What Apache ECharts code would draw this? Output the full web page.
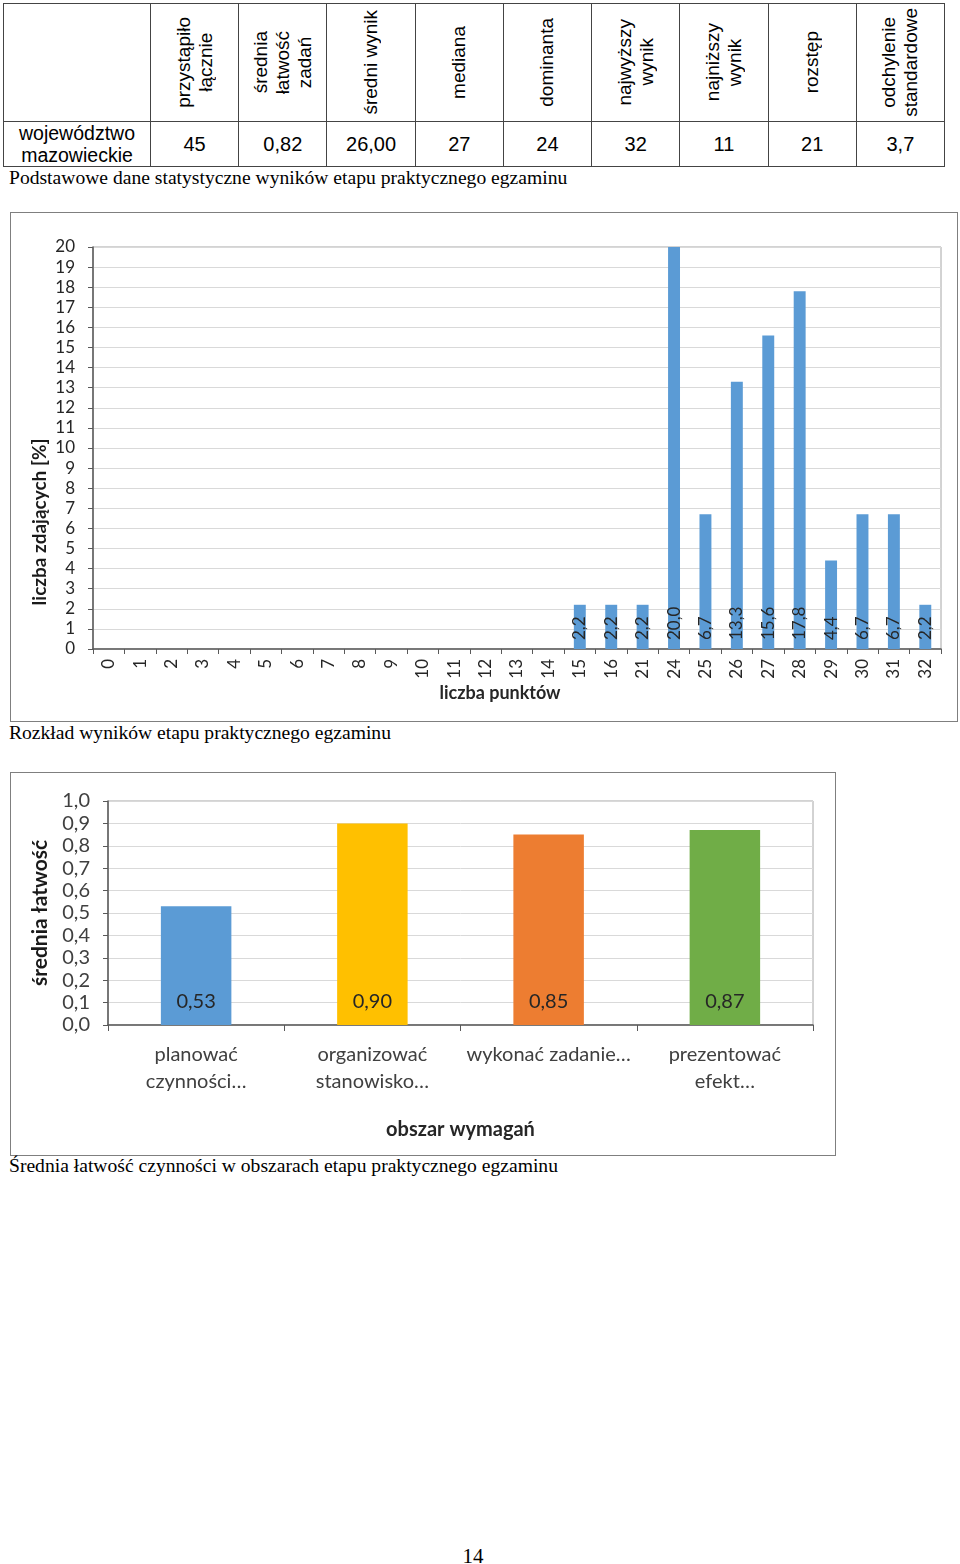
<!DOCTYPE html>
<html><head><meta charset="utf-8">
<script src="https://cdn.jsdelivr.net/npm/echarts@6/dist/echarts.min.js"></script>
<style>
html,body{margin:0;padding:0;background:#fff;}
body{width:960px;height:1564px;position:relative;overflow:hidden;}
.cap{position:absolute;left:9px;font-family:"Liberation Serif","Times New Roman",serif;font-size:19.6px;color:#000;white-space:nowrap;}
#tbl{position:absolute;left:3px;top:3px;border-collapse:collapse;table-layout:fixed;width:942px;font-family:"Liberation Sans",Arial,sans-serif;font-size:20px;color:#000;}
#tbl td{border:1.5px solid #444;padding:0;text-align:center;vertical-align:middle;overflow:hidden;}
.vt{writing-mode:vertical-rl;transform:rotate(180deg);display:inline-block;line-height:22px;white-space:nowrap;font-size:19px;vertical-align:middle;}
.box{position:absolute;border:1px solid #7f7f7f;box-sizing:border-box;}
.inner{position:absolute;left:0;top:0;}
#pg{position:absolute;left:0;width:946px;top:1544px;text-align:center;font-family:"Liberation Serif",serif;font-size:21px;}
</style></head>
<body>
<table id="tbl"><colgroup id="cg"></colgroup><tbody><tr id="hdr"></tr><tr id="row"></tr></tbody></table>
<div class="cap" style="top:167px">Podstawowe dane statystyczne wyników etapu praktycznego egzaminu</div>
<div class="box" style="left:10px;top:212px;width:948px;height:510px"><div id="c1" class="inner" style="width:946px;height:508px"></div></div>
<div class="cap" style="top:722px">Rozkład wyników etapu praktycznego egzaminu</div>
<div class="box" style="left:10px;top:772px;width:826px;height:384px"><div id="c2" class="inner" style="width:824px;height:382px"></div></div>
<div class="cap" style="top:1155px">Średnia łatwość czynności w obszarach etapu praktycznego egzaminu</div>
<div id="pg">14</div>
<script>
// ---- table data ----
const tableHeaders = ['przystąpiło<br>łącznie','średnia<br>łatwość<br>zadań','średni wynik','mediana','dominanta','najwyższy<br>wynik','najniższy<br>wynik','rozstęp','odchylenie<br>standardowe'];
const tableRowLabel = 'województwo<br>mazowieckie';
const tableValues = ['45','0,82','26,00','27','24','32','11','21','3,7'];

// ---- chart 1 data ----
const scoreCategories = ['0','1','2','3','4','5','6','7','8','9','10','11','12','13','14','15','16','21','24','25','26','27','28','29','30','31','32'];
const percentValues = [0,0,0,0,0,0,0,0,0,0,0,0,0,0,0,2.2,2.2,2.2,20.0,6.7,13.3,15.6,17.8,4.4,6.7,6.7,2.2];
const percentTicks = {min:0, max:20, interval:1};

// ---- chart 2 data ----
const areaLabels = ['planować\nczynności…','organizować\nstanowisko…','wykonać zadanie…','prezentować\nefekt…'];
const facilityValues = [0.53, 0.90, 0.85, 0.87];
const areaColors = ['#5B9BD5','#FFC000','#ED7D31','#70AD47'];
const facilityTicks = {min:0, max:1, interval:0.1};

// build table
let cg = '<col style="width:147px">';
tableHeaders.forEach(() => { cg += '<col>'; });
document.getElementById('cg').innerHTML = cg;
let h = '<td style="height:117px"></td>';
tableHeaders.forEach(t => { h += '<td><span class="vt">' + t + '</span></td>'; });
document.getElementById('hdr').innerHTML = h;
let r = '<td style="height:42px;line-height:22px;font-size:19.5px">' + tableRowLabel + '</td>';
tableValues.forEach(v => { r += '<td>' + v + '</td>'; });
document.getElementById('row').innerHTML = r;

const FONT = 'Lato, "Open Sans", sans-serif';
const axisCol = '#595959', gridCol = '#d9d9d9', txtCol = '#262626';

const c1 = echarts.init(document.getElementById('c1'), null, {renderer:'canvas'});
c1.setOption({
  animation:false,
  textStyle:{fontFamily:FONT},
  grid:{left:82, top:34, right:16, bottom:72, show:true, borderColor:'#a6a6a6', borderWidth:1},
  xAxis:{type:'category', data:scoreCategories,
    name:'liczba punktów', nameLocation:'middle', nameGap:35, nameMoveOverlap:false,
    nameTextStyle:{fontFamily:FONT, fontWeight:700, fontSize:18, color:txtCol, padding:[0,34,0,0]},
    axisLine:{lineStyle:{color:axisCol, width:1.5}},
    axisTick:{show:true, length:5, lineStyle:{color:axisCol}},
    axisLabel:{rotate:90, fontSize:17, color:txtCol, margin:10, fontFamily:FONT, interval:0}},
  yAxis:{type:'value', min:percentTicks.min, max:percentTicks.max, interval:percentTicks.interval,
    name:'liczba zdających [%]', nameLocation:'middle', nameGap:44, nameMoveOverlap:false,
    nameTextStyle:{fontFamily:FONT, fontWeight:700, fontSize:19, color:'#1a1a1a', padding:[0,148,0,0]},
    axisLine:{show:true, lineStyle:{color:axisCol, width:1.5}},
    axisTick:{show:true, length:5, lineStyle:{color:axisCol}},
    axisLabel:{fontSize:17, color:txtCol, margin:18, fontFamily:FONT},
    splitLine:{lineStyle:{color:gridCol, width:1}}},
  series:[{type:'bar', data:percentValues, barWidth:'38%', itemStyle:{color:'#5B9BD5'},
    label:{show:true, position:'insideBottom', rotate:90, align:'left', verticalAlign:'middle', distance:9,
      fontSize:17, color:txtCol, fontFamily:FONT,
      formatter:p => p.value ? p.value.toFixed(1).replace('.', ',') : ''}}]
});

const c2 = echarts.init(document.getElementById('c2'), null, {renderer:'canvas'});
c2.setOption({
  animation:false,
  textStyle:{fontFamily:FONT},
  grid:{left:97, top:28, right:22, bottom:130, show:true, borderColor:'#a6a6a6', borderWidth:1},
  xAxis:{type:'category', data:areaLabels,
    name:'obszar wymagań', nameLocation:'middle', nameGap:95,
    nameTextStyle:{fontFamily:FONT, fontWeight:700, fontSize:20, color:txtCol},
    axisLine:{lineStyle:{color:axisCol, width:1.5}},
    axisTick:{show:true, length:6, lineStyle:{color:axisCol}},
    axisLabel:{fontSize:20, color:'#404040', margin:16, lineHeight:27, fontFamily:FONT, interval:0}},
  yAxis:{type:'value', min:facilityTicks.min, max:facilityTicks.max, interval:facilityTicks.interval,
    name:'średnia łatwość', nameLocation:'middle', nameGap:57,
    nameTextStyle:{fontFamily:FONT, fontWeight:700, fontSize:21, color:'#1a1a1a'},
    axisLine:{show:true, lineStyle:{color:axisCol, width:1.5}},
    axisTick:{show:true, length:5, lineStyle:{color:axisCol}},
    axisLabel:{fontSize:20, color:'#404040', margin:18, fontFamily:FONT,
      formatter:v => v.toFixed(1).replace('.', ',')},
    splitLine:{lineStyle:{color:gridCol, width:1}}},
  series:[{type:'bar', barWidth:'40%',
    data:facilityValues.map((v,i) => ({value:v, itemStyle:{color:areaColors[i]}})),
    label:{show:true, position:'insideBottom', distance:13, fontSize:20, color:txtCol, fontFamily:FONT,
      formatter:p => p.value.toFixed(2).replace('.', ',')}}]
});
</script>
</body></html>
